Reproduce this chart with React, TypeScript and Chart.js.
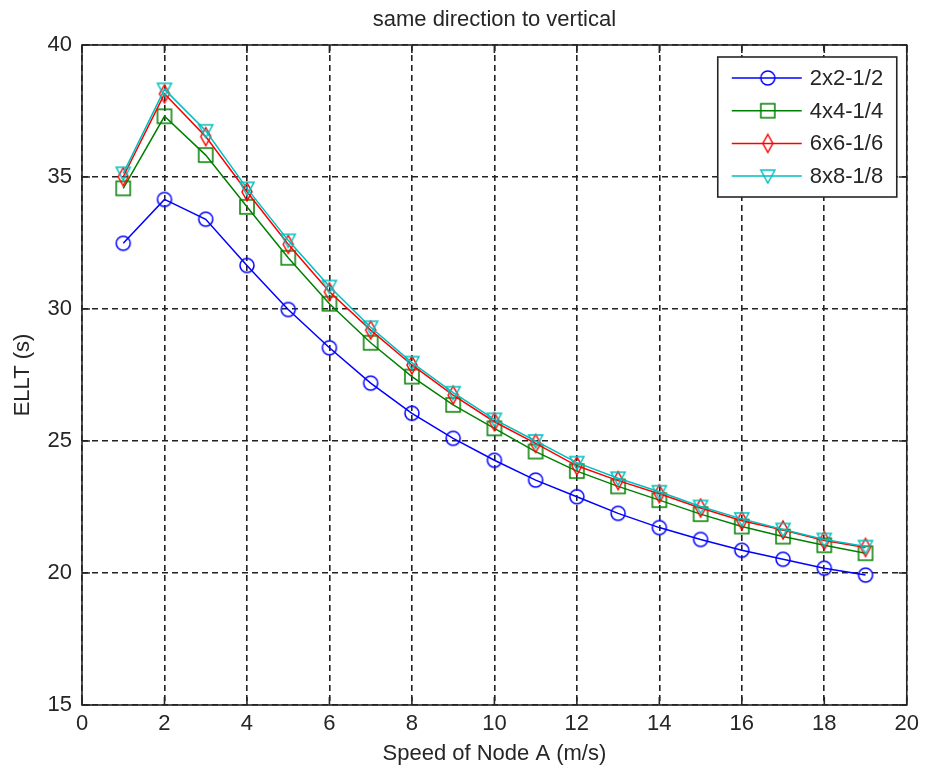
import React, { useEffect, useRef } from 'react';
import { Chart, registerables } from 'chart.js';

Chart.register(...registerables);

const speeds = [1, 2, 3, 4, 5, 6, 7, 8, 9, 10, 11, 12, 13, 14, 15, 16, 17, 18, 19];
const ellt2x2 = [32.49, 34.15, 33.4, 31.65, 29.98, 28.53, 27.19, 26.05, 25.1, 24.27, 23.52, 22.89, 22.26, 21.72, 21.27, 20.86, 20.52, 20.18, 19.92];
const ellt4x4 = [34.57, 37.3, 35.83, 33.87, 31.94, 30.2, 28.72, 27.44, 26.37, 25.48, 24.6, 23.86, 23.28, 22.76, 22.23, 21.76, 21.38, 21.05, 20.75];
const ellt6x6 = [35.01, 38.15, 36.53, 34.44, 32.45, 30.65, 29.2, 27.88, 26.74, 25.73, 24.91, 24.06, 23.5, 23.0, 22.46, 21.98, 21.63, 21.23, 20.97];
const ellt8x8 = [35.14, 38.32, 36.75, 34.57, 32.6, 30.85, 29.31, 27.97, 26.83, 25.82, 25.0, 24.18, 23.59, 23.08, 22.52, 22.05, 21.65, 21.27, 21.0];
const seriesLabels = ['2x2-1/2', '4x4-1/4', '6x6-1/6', '8x8-1/8'];
const seriesColors = ['#0000ff', '#008000', '#ff0000', '#00bfbf'];
const markerKinds = ['circle', 'square', 'diamond', 'triangleDown'];
const chartTitle = 'same direction to vertical';
const xTitle = 'Speed of Node A (m/s)';
const yTitle = 'ELLT (s)';

const FONT = '"Liberation Sans", Arial, sans-serif';
const TEXT = '#262626';

function makeMarker(kind: string, color: string): HTMLCanvasElement {
  const c = document.createElement('canvas');
  c.width = 22;
  c.height = 22;
  const ctx = c.getContext('2d')!;
  const cx = 11, cy = 11;
  ctx.strokeStyle = color;
  ctx.lineWidth = 1.5;
  ctx.beginPath();
  if (kind === 'circle') {
    ctx.arc(cx, cy, 7, 0, Math.PI * 2);
  } else if (kind === 'square') {
    ctx.rect(cx - 7, cy - 7, 14, 14);
  } else if (kind === 'diamond') {
    ctx.moveTo(cx, cy - 9);
    ctx.lineTo(cx + 5, cy);
    ctx.lineTo(cx, cy + 9);
    ctx.lineTo(cx - 5, cy);
    ctx.closePath();
  } else {
    ctx.moveTo(cx - 7, cy - 6);
    ctx.lineTo(cx + 7, cy - 6);
    ctx.lineTo(cx, cy + 7);
    ctx.closePath();
  }
  ctx.stroke();
  return c;
}

const framePlugin = {
  id: 'matlabFrame',
  afterDatasetsDraw(chart: any) {
    const { ctx, chartArea: a, scales } = chart;
    ctx.save();
    ctx.setLineDash([]);
    ctx.strokeStyle = TEXT;
    ctx.lineWidth = 1.6;
    ctx.strokeRect(a.left, a.top, a.right - a.left, a.bottom - a.top);
    ctx.beginPath();
    scales.x.ticks.forEach((t: any) => {
      const px = scales.x.getPixelForValue(t.value);
      ctx.moveTo(px, a.bottom);
      ctx.lineTo(px, a.bottom - 8);
      ctx.moveTo(px, a.top);
      ctx.lineTo(px, a.top + 8);
    });
    scales.y.ticks.forEach((t: any) => {
      const py = scales.y.getPixelForValue(t.value);
      ctx.moveTo(a.left, py);
      ctx.lineTo(a.left + 8, py);
      ctx.moveTo(a.right, py);
      ctx.lineTo(a.right - 8, py);
    });
    ctx.stroke();

    // title centred over the plot area
    ctx.fillStyle = TEXT;
    ctx.font = `22px ${FONT}`;
    ctx.textAlign = 'center';
    ctx.textBaseline = 'middle';
    ctx.fillText(chartTitle, (a.left + a.right) / 2, 20);

    // legend box
    const bw = 179, bh = 140;
    const bx = a.right - 10 - bw;
    const by = a.top + 12;
    ctx.fillStyle = '#ffffff';
    ctx.fillRect(bx, by, bw, bh);
    ctx.strokeStyle = TEXT;
    ctx.lineWidth = 1.6;
    ctx.strokeRect(bx, by, bw, bh);
    ctx.font = `22px ${FONT}`;
    ctx.textBaseline = 'middle';
    ctx.textAlign = 'left';
    chart.data.datasets.forEach((ds: any, i: number) => {
      const y = by + 21 + i * 32.7;
      ctx.strokeStyle = ds.borderColor;
      ctx.lineWidth = 1.5;
      ctx.beginPath();
      ctx.moveTo(bx + 14, y);
      ctx.lineTo(bx + 84, y);
      ctx.stroke();
      const m = ds.pointStyle as HTMLCanvasElement;
      ctx.drawImage(m, bx + 50 - m.width / 2, y - m.height / 2);
      ctx.fillStyle = TEXT;
      ctx.fillText(ds.label, bx + 92, y + 1);
    });
    ctx.restore();
  },
};

export default function App() {
  const ref = useRef<HTMLCanvasElement>(null);
  useEffect(() => {
    const allSeries = [ellt2x2, ellt4x4, ellt6x6, ellt8x8];
    const datasets = allSeries.map((vals, i) => ({
      label: seriesLabels[i],
      data: vals.map((v, j) => ({ x: speeds[j], y: v })),
      borderColor: seriesColors[i],
      backgroundColor: 'transparent',
      borderWidth: 1.5,
      pointStyle: makeMarker(markerKinds[i], seriesColors[i]),
      pointRadius: 7,
      pointHoverRadius: 7,
      tension: 0,
      order: 3 - i,
    }));
    const chart = new Chart(ref.current!, {
      type: 'line',
      data: { datasets } as any,
      plugins: [framePlugin],
      options: {
        animation: false,
        responsive: false,
        devicePixelRatio: 1,
        layout: { padding: { left: 0, right: 15, top: 45, bottom: 0 } },
        plugins: {
          legend: { display: false },
          tooltip: { enabled: false },
          title: { display: false },
        },
        scales: {
          x: {
            type: 'linear',
            min: 0,
            max: 20,
            ticks: { stepSize: 2, color: TEXT, font: { family: FONT, size: 22 }, padding: 6, maxRotation: 0 },
            grid: { color: '#222', lineWidth: 1.6, drawTicks: false },
            border: { display: false, dash: [6, 4] },
            title: { display: true, text: xTitle, color: TEXT, font: { family: FONT, size: 22 }, padding: { top: 0, bottom: 3.8 } },
            afterFit: (s: any) => { s.height = 66; },
          },
          y: {
            type: 'linear',
            min: 15,
            max: 40,
            ticks: { stepSize: 5, color: TEXT, font: { family: FONT, size: 22 }, padding: 10 },
            grid: { color: '#222', lineWidth: 1.6, drawTicks: false },
            border: { display: false, dash: [6, 4] },
            title: { display: true, text: yTitle, color: TEXT, font: { family: FONT, size: 22 }, padding: { top: 9.8, bottom: 0 } },
            afterFit: (s: any) => { s.width = 82; },
          },
        },
      } as any,
    });
    return () => chart.destroy();
  }, []);
  return (
    <div style={{ position: 'absolute', left: 0, top: 0, width: 925, height: 771, background: '#fff' }}>
      <canvas ref={ref} width={925} height={771} style={{ display: 'block' }} />
    </div>
  );
}
